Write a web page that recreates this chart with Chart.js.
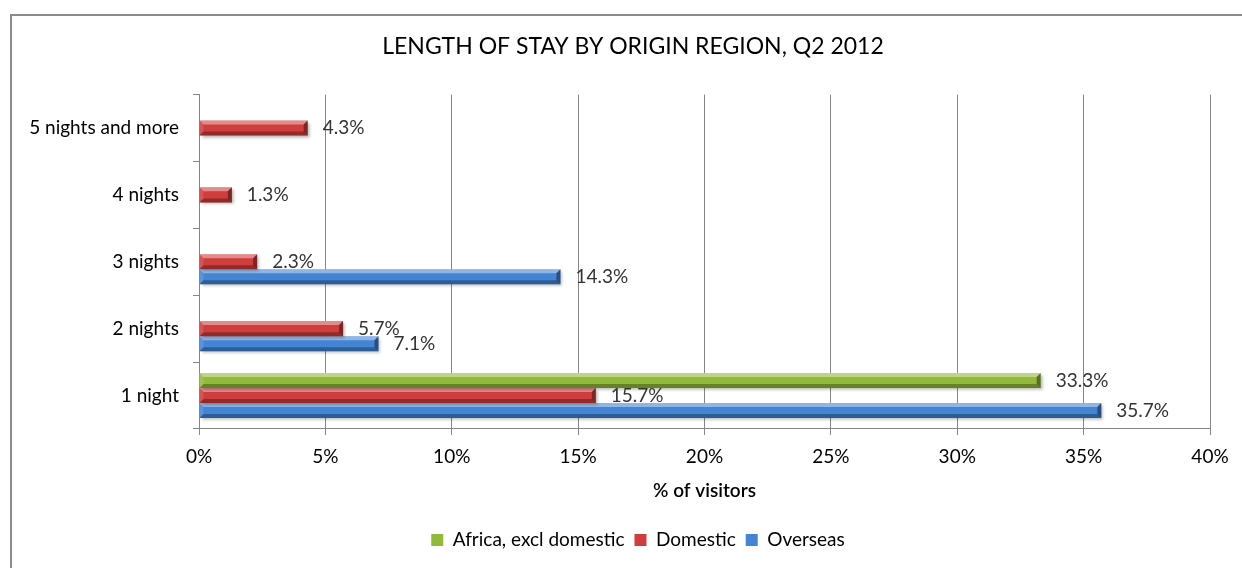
<!DOCTYPE html>
<html>
<head>
<meta charset="UTF-8">
<title>Length of stay by origin region, Q2 2012</title>
<script src="https://cdn.jsdelivr.net/npm/chart.js@4.4.1/dist/chart.umd.min.js"></script>
<style>
  html, body { margin: 0; padding: 0; background: #fff; }
  #wrap { width: 1242px; height: 568px; position: relative; overflow: hidden; }
</style>
</head>
<body>
<div id="wrap"><canvas id="stayChart" width="1242" height="568"></canvas></div>
<script>
// Length of stay, share of visitors per origin region
const categories = ['5 nights and more', '4 nights', '3 nights', '2 nights', '1 night'];
const africaValues = [null, null, null, null, 33.3];
const domesticValues = [4.3, 1.3, 2.3, 5.7, 15.7];
const overseasValues = [null, null, 14.3, 7.1, 35.7];
const seriesNames = ['Africa, excl domestic', 'Domestic', 'Overseas'];
const xMin = 0, xMax = 40, xStep = 5;

const FONT = 'Lato, "Open Sans", sans-serif';
const GRID = '#868686';

// outer frame around the whole chart
const framePlugin = {
  id: 'frame',
  beforeDraw(chart) {
    const ctx = chart.ctx;
    ctx.save();
    ctx.strokeStyle = '#8c8c8c';
    ctx.lineWidth = 2;
    ctx.strokeRect(11, 15, 1300, 700);
    ctx.restore();
  }
};

// the frame is wider than the canvas, so title and legend sit right of canvas centre
const shiftBoxes = {
  id: 'shiftBoxes',
  afterLayout(chart) {
    chart.titleBlock.left += 28;
    chart.titleBlock.right += 28;
    chart.legend.left += 33;
    chart.legend.right += 33;
  }
};

// drop shadow + bevelled edges on every bar
const bevelPlugin = {
  id: 'bevel',
  beforeDatasetDraw(chart) {
    const ctx = chart.ctx;
    ctx.save();
    ctx.shadowColor = 'rgba(0,0,0,0.3)';
    ctx.shadowBlur = 3;
    ctx.shadowOffsetX = 2;
    ctx.shadowOffsetY = 2;
  },
  afterDatasetDraw(chart, args) {
    const ctx = chart.ctx;
    ctx.restore();
    const ds = chart.data.datasets[args.index];
    const b = 4;
    args.meta.data.forEach((bar, i) => {
      if (ds.data[i] == null) return;
      const p = bar.getProps(['x', 'y', 'base', 'height'], true);
      const l = Math.min(p.base, p.x), r = Math.max(p.base, p.x);
      const t = p.y - p.height / 2, bt = p.y + p.height / 2;
      const poly = (pts, fill) => {
        ctx.beginPath();
        ctx.moveTo(pts[0][0], pts[0][1]);
        pts.slice(1).forEach(q => ctx.lineTo(q[0], q[1]));
        ctx.closePath();
        ctx.fillStyle = fill;
        ctx.fill();
      };
      ctx.save();
      poly([[l, t], [r, t], [r - b, t + b], [l + b, t + b]], 'rgba(255,255,255,0.4)');
      poly([[l, bt], [r, bt], [r - b, bt - b], [l + b, bt - b]], 'rgba(0,0,0,0.3)');
      poly([[r, t], [r, bt], [r - b, bt - b], [r - b, t + b]], 'rgba(0,0,0,0.4)');
      poly([[l, t], [l, bt], [l + b, bt - b], [l + b, t + b]], 'rgba(255,255,255,0.12)');
      ctx.restore();
    });
  }
};

// value labels just past the end of each bar
const valueLabels = {
  id: 'valueLabels',
  afterDatasetsDraw(chart) {
    const ctx = chart.ctx;
    ctx.save();
    ctx.font = '19px ' + FONT;
    ctx.fillStyle = '#333';
    ctx.textAlign = 'left';
    ctx.textBaseline = 'middle';
    chart.data.datasets.forEach((ds, di) => {
      chart.getDatasetMeta(di).data.forEach((bar, i) => {
        const v = ds.data[i];
        if (v == null) return;
        ctx.fillText(v.toFixed(1) + '%', bar.x + 15, bar.y);
      });
    });
    ctx.restore();
  }
};

new Chart(document.getElementById('stayChart'), {
  type: 'bar',
  data: {
    labels: categories,
    datasets: [
      { label: seriesNames[0], data: africaValues, backgroundColor: '#93b93a' },
      { label: seriesNames[1], data: domesticValues, backgroundColor: '#cf3e3c' },
      { label: seriesNames[2], data: overseasValues, backgroundColor: '#4384d4' }
    ]
  },
  options: {
    indexAxis: 'y',
    responsive: false,
    animation: false,
    categoryPercentage: 0.675,
    barPercentage: 1.0,
    layout: { padding: { left: 0, right: 32, top: 0, bottom: 8.5 } },
    plugins: {
      title: {
        display: true,
        text: 'LENGTH OF STAY BY ORIGIN REGION, Q2 2012',
        color: '#000',
        font: { family: FONT, size: 23, weight: 'normal' },
        padding: { top: 33, bottom: 34 }
      },
      legend: {
        position: 'bottom',
        labels: {
          color: '#000',
          font: { family: FONT, size: 19 },
          boxWidth: 12,
          boxHeight: 12,
          padding: 10
        }
      },
      tooltip: { enabled: false }
    },
    scales: {
      x: {
        min: xMin,
        max: xMax,
        ticks: {
          stepSize: xStep,
          color: '#000',
          font: { family: FONT, size: 19 },
          padding: 11,
          callback: v => v + '%'
        },
        grid: { color: GRID, tickLength: 6 },
        border: { color: GRID },
        title: {
          display: true,
          text: '% of visitors',
          color: '#000',
          font: { family: FONT, size: 19, weight: '600' },
          padding: { top: 0, bottom: 18 }
        }
      },
      y: {
        afterFit: scale => { scale.width = 199; },
        ticks: {
          color: '#000',
          font: { family: FONT, size: 19 },
          padding: 14
        },
        grid: { color: GRID, tickLength: 6, drawOnChartArea: false, offset: true },
        border: { color: GRID }
      }
    }
  },
  plugins: [framePlugin, shiftBoxes, bevelPlugin, valueLabels]
});
</script>
</body>
</html>
